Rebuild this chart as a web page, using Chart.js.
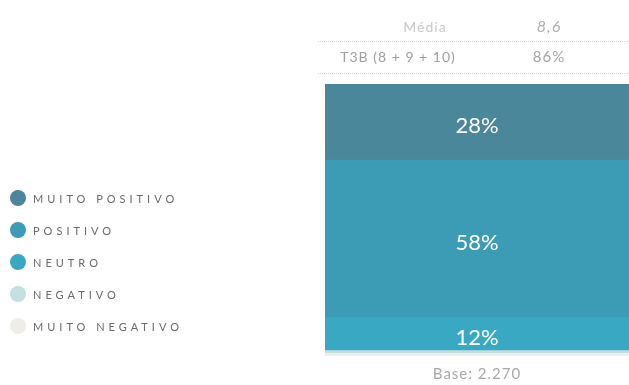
<!DOCTYPE html>
<html>
<head>
<meta charset="utf-8">
<script src="https://cdn.jsdelivr.net/npm/chart.js@4"></script>
<style>
  html, body { margin: 0; padding: 0; background: #fff; }
  #wrap { width: 629px; height: 385px; position: relative; }
</style>
</head>
<body>
<div id="wrap"><canvas id="grafico"></canvas></div>
<script>
// categorias, de cima para baixo na legenda
const categorias = ['MUITO POSITIVO', 'POSITIVO', 'NEUTRO', 'NEGATIVO', 'MUITO NEGATIVO'];
const valores = [28, 58, 12, 1, 1];
const cores = ['#4a879a', '#3c9cb5', '#39a9c3', '#c4dfe1', '#eeede8'];

// quadro de indicadores acima da barra
const indicadores = ['Média', 'T3B (8 + 9 + 10)'];
const indicadoresValor = ['8,6', '86%'];
const base = 'Base: 2.270';

const FONTE = 'Lato, "Open Sans", sans-serif';

// empilha de baixo pra cima: muito negativo primeiro
const datasets = categorias.map((c, i) => ({
  label: c,
  data: [valores[i]],
  backgroundColor: cores[i],
  borderWidth: 0
})).reverse();

const extras = {
  id: 'extras',
  afterDatasetsDraw(chart) {
    const ctx = chart.ctx;
    const area = chart.chartArea;
    ctx.save();

    // rótulos de porcentagem dentro da barra
    ctx.fillStyle = '#fff';
    ctx.font = '22px ' + FONTE;
    ctx.textAlign = 'center';
    ctx.textBaseline = 'middle';
    chart.data.datasets.forEach((ds, i) => {
      const v = ds.data[0];
      if (v < 5) return;
      const bar = chart.getDatasetMeta(i).data[0];
      ctx.fillText(v + '%', (area.left + area.right) / 2, (bar.y + bar.base) / 2 + 4);
    });

    // quadro de média / T3B
    const linhasY = [41, 73];
    ctx.letterSpacing = '1px';
    indicadores.forEach((t, i) => {
      const y = i === 0 ? 27 : 57;
      ctx.fillStyle = i === 0 ? '#c8c8c8' : '#a0a0a0';
      ctx.font = '14px ' + FONTE;
      ctx.fillText(t, i === 0 ? 425 : 398, y);
      ctx.fillStyle = i === 0 ? '#b0b0b0' : '#a4a4a4';
      ctx.font = (i === 0 ? 'italic 16px ' : '15px ') + FONTE;
      ctx.fillText(indicadoresValor[i], 549, y);
    });
    ctx.strokeStyle = '#dadada';
    ctx.lineWidth = 1;
    ctx.setLineDash([1, 1]);
    linhasY.forEach(y => {
      ctx.beginPath();
      ctx.moveTo(318, y + 0.5);
      ctx.lineTo(629, y + 0.5);
      ctx.stroke();
    });
    ctx.setLineDash([]);

    // base
    ctx.fillStyle = '#a8a8a8';
    ctx.font = '15px ' + FONTE;
    ctx.fillText(base, 477, 374);

    // legenda
    ctx.textAlign = 'left';
    ctx.font = '11px ' + FONTE;
    ctx.letterSpacing = '4px';
    categorias.forEach((c, i) => {
      const y = 198 + i * 32;
      ctx.fillStyle = cores[i];
      ctx.beginPath();
      ctx.arc(18, y, 8, 0, Math.PI * 2);
      ctx.fill();
      ctx.fillStyle = '#6a6a6a';
      ctx.fillText(c, 33, y + 1);
    });
    ctx.restore();
  }
};

new Chart(document.getElementById('grafico'), {
  type: 'bar',
  data: { labels: [''], datasets: datasets },
  options: {
    responsive: true,
    maintainAspectRatio: false,
    animation: false,
    layout: { padding: { left: 325, top: 84, right: 0, bottom: 29 } },
    datasets: { bar: { categoryPercentage: 1, barPercentage: 1 } },
    scales: {
      x: { stacked: true, display: false },
      y: { stacked: true, display: false, min: 0, max: 100 }
    },
    plugins: { legend: { display: false }, tooltip: { enabled: false } }
  },
  plugins: [extras]
});
</script>
</body>
</html>
